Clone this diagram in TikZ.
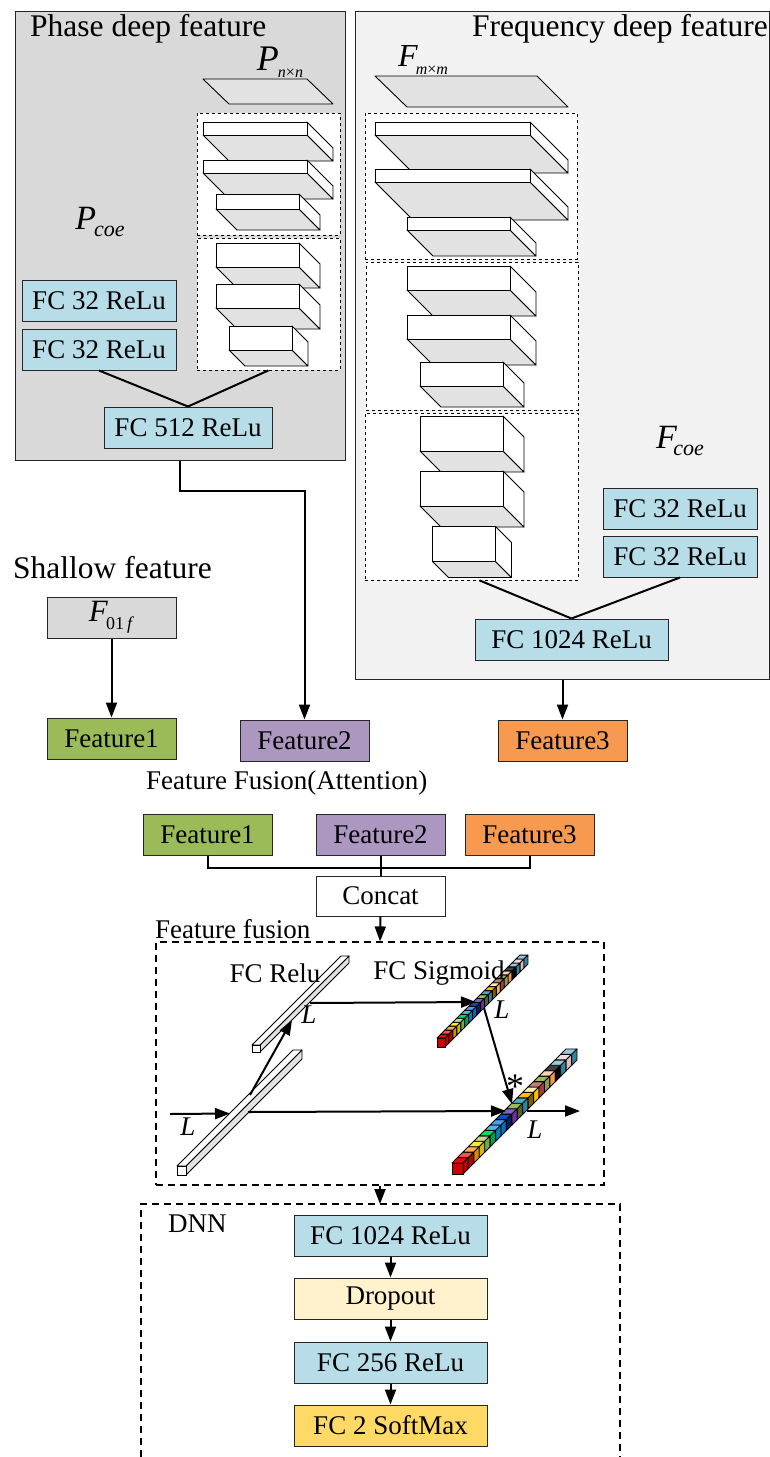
\documentclass[tikz,border=0pt]{standalone}
\usepackage{fontspec}
\setmainfont{Liberation Serif}
\usetikzlibrary{arrows.meta}

\definecolor{fcblue}{HTML}{B7DDE8}
\definecolor{dropcol}{HTML}{FFF2CC}
\definecolor{softcol}{HTML}{FFD966}
\definecolor{feagreen}{HTML}{9BBB59}
\definecolor{feapurple}{HTML}{AB97BF}
\definecolor{feaorange}{HTML}{F79A50}
\definecolor{slabgray}{HTML}{E2E2E2}

\newcommand{\symlab}[5]{{\fontsize{#1}{#1}\selectfont\textit{#3}}\kern#5pt\raisebox{-0.28em}{\fontsize{#2}{#2}\selectfont #4}}

\tikzset{
	>={Triangle[length=15pt,width=11pt]},
	lab/.style={font=\fontsize{27}{30}\selectfont, inner sep=0pt},
	biglab/.style={font=\fontsize{31.5}{34}\selectfont, inner sep=0pt},
	box/.style={lab, draw=black!85, line width=1pt, minimum width=129pt, minimum height=41pt},
	fc/.style={box, fill=fcblue},
	panel/.style={draw=black!85, line width=1pt, inner sep=0pt},
	dashbox/.style={draw, dashed, fill=white, line width=0.8pt, inner sep=0pt},
	bigdash/.style={draw, dash pattern=on 7pt off 5pt, line width=1.2pt, inner sep=0pt},
	slab/.style={draw=black, line width=0.9pt, line join=round},
	conn/.style={line width=2pt},
}

% One block of a stack
\newcommand{\slabdraw}[5]{
	\draw[slab, fill=slabgray] (#1,#2+#4) -- ++(#3,0) -- ++(#5,#5) -- ++(-#3,0) -- cycle;
	\draw[slab, fill=white] (#1+#3,#2) -- ++(#5,#5) -- ++(0,#4) -- ++(-#5,-#5) -- cycle;
	\draw[slab, fill=white] (#1,#2) rectangle ++(#3,#4);
}

% Coloured bar: x, y, front width, front height, step
\newcommand{\cellbar}[5]{
	\foreach \t/\r [count=\i from 0] in {FF0000/C00000,FF5050/C00000,FDB04B/D09000,FFE830/D8B800,C4D88C/70AD47,00E060/00A050,4FB8E8/0080C0,4AA0F0/0070C0,0050C0/002060,8060C0/7030A0,9BBB59/4F6228,4BACC6/31859C,FFC000/7F6000,FFF0A0/FFC000,C0806F/A04030,9BBB59/8A9A50,FBD4B4/F79646,404040/000000,92CDDC/31859C,F2DCDB/E6B8B7,92CDDC/31859C}{
		\definecolor{celltop}{HTML}{\t}
		\definecolor{cellside}{HTML}{\r}
		\draw[slab, fill=celltop] (#1+\i*#5,#2-\i*#5) -- ++(#3,0) -- ++(#5,-#5) -- ++(-#3,0) -- cycle;
		\draw[slab, fill=cellside] (#1+#3+\i*#5,#2-\i*#5) -- ++(#5,-#5) -- ++(0,#4) -- ++(-#5,#5) -- cycle;
	}
	\draw[slab, fill=red!80!black] (#1,#2) rectangle ++(#3,#4);
}

\begin{document}
\begin{tikzpicture}[x=1pt,y=-1pt]
	\useasboundingbox (0,0) rectangle (770,1457);

	% Phase branch
	\node[panel, fill=black!15, minimum width=330pt, minimum height=449pt] (phasebox) at (180,235.5) {};
	\node[biglab, anchor=west] (phasetitle) at (30,29) {Phase deep feature};
	\node[lab] (pnn) at (280,62) {\symlab{36}{16}{P}{\textit{n}×\textit{n}}{-1}};
	\draw[slab, fill=slabgray] (203,79) -- (307,79) -- (333,104) -- (229,104) -- cycle;
	\node[dashbox, minimum width=143pt, minimum height=122pt] (convpa) at (268.5,174) {};
	\node[dashbox, minimum width=143pt, minimum height=132pt] (convpb) at (268.5,304) {};
	\foreach \x/\y/\w/\h/\d in {203/122/104/13/26, 203/160/104/13/26, 216/194/83/15/21, 216/243/83/24/21, 216/284/83/24/21, 229/326/63/24/16}{
		\slabdraw{\x}{\y}{\w}{\h}{\d}
	}
	\node[lab] (pcoe) at (100,222) {\symlab{34}{22}{P}{\textit{coe}}{-2}};
	\node[fc, minimum width=154pt] (fcpa) at (99,301) {FC 32 ReLu};
	\node[fc, minimum width=154pt] (fcpb) at (99,349.5) {FC 32 ReLu};
	\node[fc, minimum width=168pt] (fcpc) at (188,427.5) {FC 512 ReLu};
	\draw[conn] (fcpb.south) -- (fcpc.north);
	\draw[conn] (convpb.south) -- (fcpc.north);

	% Frequency branch
	\node[panel, fill=black!5, minimum width=414pt, minimum height=668pt] (freqbox) at (562.5,345) {};
	\node[biglab, anchor=east] (freqtitle) at (768,29) {Frequency deep feature};
	\node[lab] (fmm) at (423,60) {\symlab{32}{16}{F}{\textit{m}×\textit{m}}{-2}};
	\draw[slab, fill=slabgray] (375,76) -- (537,76) -- (568,107) -- (407,107) -- cycle;
	\node[dashbox, minimum width=212pt, minimum height=146pt] (convfa) at (471,186) {};
	\node[dashbox, minimum width=212pt, minimum height=148pt] (convfb) at (472,336) {};
	\node[dashbox, minimum width=213pt, minimum height=167pt] (convfc) at (471.5,496.5) {};
	\foreach \x/\y/\w/\h/\d in {375/122/155/13/38, 375/169/155/13/38, 407/217/103/13/26, 407/266/103/24/26, 407/315/103/24/26, 420/362/83/24/21, 420/416/83/35/21, 420/471/83/35/21, 432.5/526.5/63/35/16}{
		\slabdraw{\x}{\y}{\w}{\h}{\d}
	}
	\node[lab] (fcoe) at (680,441) {\symlab{34}{22}{F}{\textit{coe}}{-4}};
	\node[fc, minimum width=154pt] (fcfa) at (680,509) {FC 32 ReLu};
	\node[fc, minimum width=154pt] (fcfb) at (680,556.5) {FC 32 ReLu};
	\node[fc, minimum width=193pt] (fcfc) at (571.5,639.5) {FC 1024 ReLu};
	\draw[conn] ([xshift=8pt]convfc.south) -- (fcfc.north);
	\draw[conn] (fcfb.south) -- (fcfc.north);

	% Shallow branch and features
	\node[biglab, anchor=west] (shallow) at (13,568) {Shallow feature};
	\node[box, fill=black!15] (f01) at (111.5,617.5) {\symlab{31}{18}{F}{01\,\textit{f}}{-2}};
	\node[box, fill=feagreen] (feaa) at (111.5,738.5) {Feature1};
	\node[box, fill=feapurple] (feab) at (304.5,740.5) {Feature2};
	\node[box, fill=feaorange] (feac) at (562.5,740.5) {Feature3};
	\draw[conn, ->] (f01.south) -- (feaa.north);
	\draw[conn, ->] (phasebox.south) -- ++(0,30) -| (feab.north);
	\draw[conn, ->] (freqbox.south) -- (feac.north);

	% Fusion inputs
	\node[lab, anchor=west] (fustitle) at (146,783) {Feature Fusion(Attention)};
	\node[box, fill=feagreen] (lowa) at (207.5,834.5) {Feature1};
	\node[box, fill=feapurple] (lowb) at (380.5,834.5) {Feature2};
	\node[box, fill=feaorange] (lowc) at (529.5,834.5) {Feature3};
	\node[box, fill=white, minimum height=40pt] (concat) at (380.5,896) {Concat};
	\draw[conn] (lowa.south) -- ++(0,12) -| (lowc.south);
	\draw[conn] (lowb.south) -- (concat.north);

	% Attention block
	\node[bigdash, minimum width=448pt, minimum height=243pt] (fusbox) at (380,1063.5) {};
	\node[lab, anchor=west] (fusname) at (155,929) {Feature fusion};
	\draw[conn, ->] (concat.south) -- (fusbox.north);

	\foreach \x/\y/\w/\h/\e in {252/1045/8/7/89, 177/1166/9/9/116}{
		\draw[slab, fill=slabgray] (\x+\w,\y) -- ++(\e,-\e) -- ++(0,\h) -- ++(-\e,\e) -- cycle;
		\draw[slab, fill=white] (\x,\y) -- ++(\w,0) -- ++(\e,-\e) -- ++(-\w,0) -- cycle;
		\draw[slab, fill=white] (\x,\y) rectangle ++(\w,\h);
	}
	\cellbar{437}{1038}{8}{9}{3.95}
	\cellbar{452}{1163}{11}{11}{5.43}

	\coordinate (inl) at (170,1114);
	\coordinate (lowhit) at (230,1113.5);
	\coordinate (lowup) at (250,1095);
	\coordinate (uphit) at (292,1020);
	\coordinate (upout) at (310,1003);
	\coordinate (sighit) at (476,1002);
	\coordinate (lowout) at (248,1112);
	\coordinate (mulhit) at (506,1111);
	\coordinate (sigout) at (484,1008);
	\coordinate (mulin) at (512,1104);
	\coordinate (mulout) at (527,1111);
	\coordinate (outl) at (580,1111);
	\draw[conn, ->] (inl) -- (lowhit);
	\draw[conn, ->] (lowup) -- (uphit);
	\draw[conn, ->] (upout) -- (sighit);
	\draw[conn, ->] (lowout) -- (mulhit);
	\draw[conn, ->] (sigout) -- (mulin);
	\draw[conn, ->] (mulout) -- (outl);

	\node[lab] (rellab) at (275,973) {FC Relu};
	\node[lab] (siglab) at (439,973) {FC Sigmoid};
	\node[lab] (la) at (188,1127) {\textit{L}};
	\node[lab] (lb) at (309,1015) {\textit{L}};
	\node[lab] (lc) at (502,1010) {\textit{L}};
	\node[lab] (ld) at (535,1130) {\textit{L}};
	\node[lab, font=\fontsize{36}{36}\selectfont] (star) at (515,1087) {*};

	% DNN block
	\draw[bigdash] (141,1457) -- (141,1204) -- (620,1204) -- (620,1457);
	\coordinate (dnntop) at (380,1204);
	\draw[conn, ->] (fusbox.south) -- (dnntop);
	\node[lab, anchor=west] (dnnlab) at (168,1224) {DNN};
	\node[fc, minimum width=193pt] (dnna) at (390.5,1235.5) {FC 1024 ReLu};
	\node[box, fill=dropcol, minimum width=193pt, text height=17pt, text depth=6pt] (dnnb) at (390.5,1298.5) {Dropout};
	\node[fc, minimum width=193pt] (dnnc) at (390.5,1362.5) {FC 256 ReLu};
	\node[box, fill=softcol, minimum width=193pt] (dnnd) at (390.5,1425.5) {FC 2 SoftMax};
	\draw[conn, ->] (dnna) -- (dnnb);
	\draw[conn, ->] (dnnb) -- (dnnc);
	\draw[conn, ->] (dnnc) -- (dnnd);
\end{tikzpicture}
\end{document}
